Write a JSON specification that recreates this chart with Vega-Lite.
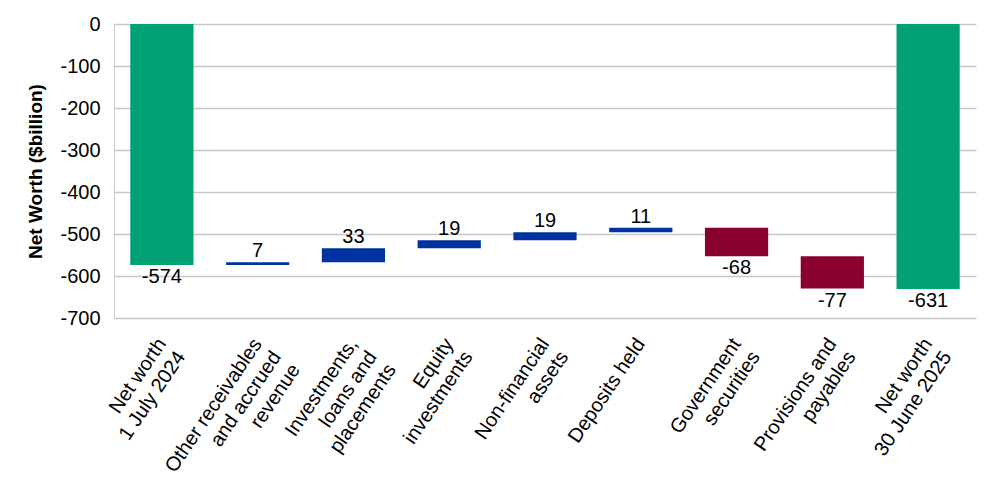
{
  "$schema": "https://vega.github.io/schema/vega-lite/v6.json",
  "width": 862,
  "height": 294,
  "autosize": {"type": "none"},
  "padding": {"left": 114, "top": 24, "right": 24, "bottom": 185},
  "background": "white",
  "config": {
    "font": "Liberation Sans",
    "view": {"stroke": null},
    "locale": {
      "number": {
        "decimal": ".",
        "thousands": ",",
        "grouping": [3],
        "currency": ["$", ""],
        "minus": "-"
      }
    }
  },
  "data": {
    "values": [
      {"category": "Net worth|1 July 2024", "start": 0, "end": -574, "value": -574, "kind": "total"},
      {"category": "Other receivables|and accrued|revenue", "start": -574, "end": -567, "value": 7, "kind": "increase"},
      {"category": "Investments,|loans and|placements", "start": -567, "end": -534, "value": 33, "kind": "increase"},
      {"category": "Equity|investments", "start": -534, "end": -515, "value": 19, "kind": "increase"},
      {"category": "Non-financial|assets", "start": -515, "end": -496, "value": 19, "kind": "increase"},
      {"category": "Deposits held", "start": -496, "end": -485, "value": 11, "kind": "increase"},
      {"category": "Government|securities", "start": -485, "end": -553, "value": -68, "kind": "decrease"},
      {"category": "Provisions and|payables", "start": -553, "end": -630, "value": -77, "kind": "decrease"},
      {"category": "Net worth|30 June 2025", "start": 0, "end": -631, "value": -631, "kind": "total"}
    ]
  },
  "encoding": {
    "x": {
      "field": "category",
      "type": "nominal",
      "sort": null,
      "scale": {"paddingInner": 0.34, "paddingOuter": 0.17},
      "axis": {
        "title": null,
        "domain": false,
        "ticks": false,
        "labelExpr": "split(datum.value, '|')",
        "labelAngle": -56,
        "labelAlign": "right",
        "labelBaseline": "middle",
        "labelFontSize": 20,
        "labelLineHeight": 23,
        "labelColor": "#000000",
        "labelPadding": 22,
        "labelLimit": 300
      }
    }
  },
  "layer": [
    {
      "mark": {"type": "bar"},
      "encoding": {
        "y": {
          "field": "start",
          "type": "quantitative",
          "scale": {"domain": [-700, 0], "nice": false, "zero": false},
          "axis": {
            "title": "Net Worth ($billion)",
            "titleFontSize": 19,
            "titleFontWeight": "bold",
            "titleColor": "#000000",
            "titlePadding": 14,
            "values": [0, -100, -200, -300, -400, -500, -600, -700],
            "labelFontSize": 20,
            "labelColor": "#000000",
            "labelPadding": 14,
            "ticks": false,
            "domainColor": "#cccccc",
            "gridColor": "#c8c8c8",
            "gridWidth": 1.5
          }
        },
        "y2": {"field": "end"},
        "color": {
          "field": "kind",
          "type": "nominal",
          "scale": {
            "domain": ["total", "increase", "decrease"],
            "range": ["#00A075", "#0033A1", "#8A0030"]
          },
          "legend": null
        }
      }
    },
    {
      "transform": [{"filter": "datum.value >= 0"}],
      "mark": {"type": "text", "baseline": "bottom", "dy": -1, "fontSize": 20, "color": "#000000"},
      "encoding": {
        "y": {"field": "end", "type": "quantitative"},
        "text": {"field": "value", "type": "quantitative", "format": "d"}
      }
    },
    {
      "transform": [{"filter": "datum.value < 0"}],
      "mark": {"type": "text", "baseline": "top", "dy": 2, "fontSize": 20, "color": "#000000"},
      "encoding": {
        "y": {"field": "end", "type": "quantitative"},
        "text": {"field": "value", "type": "quantitative", "format": "d"}
      }
    }
  ]
}
